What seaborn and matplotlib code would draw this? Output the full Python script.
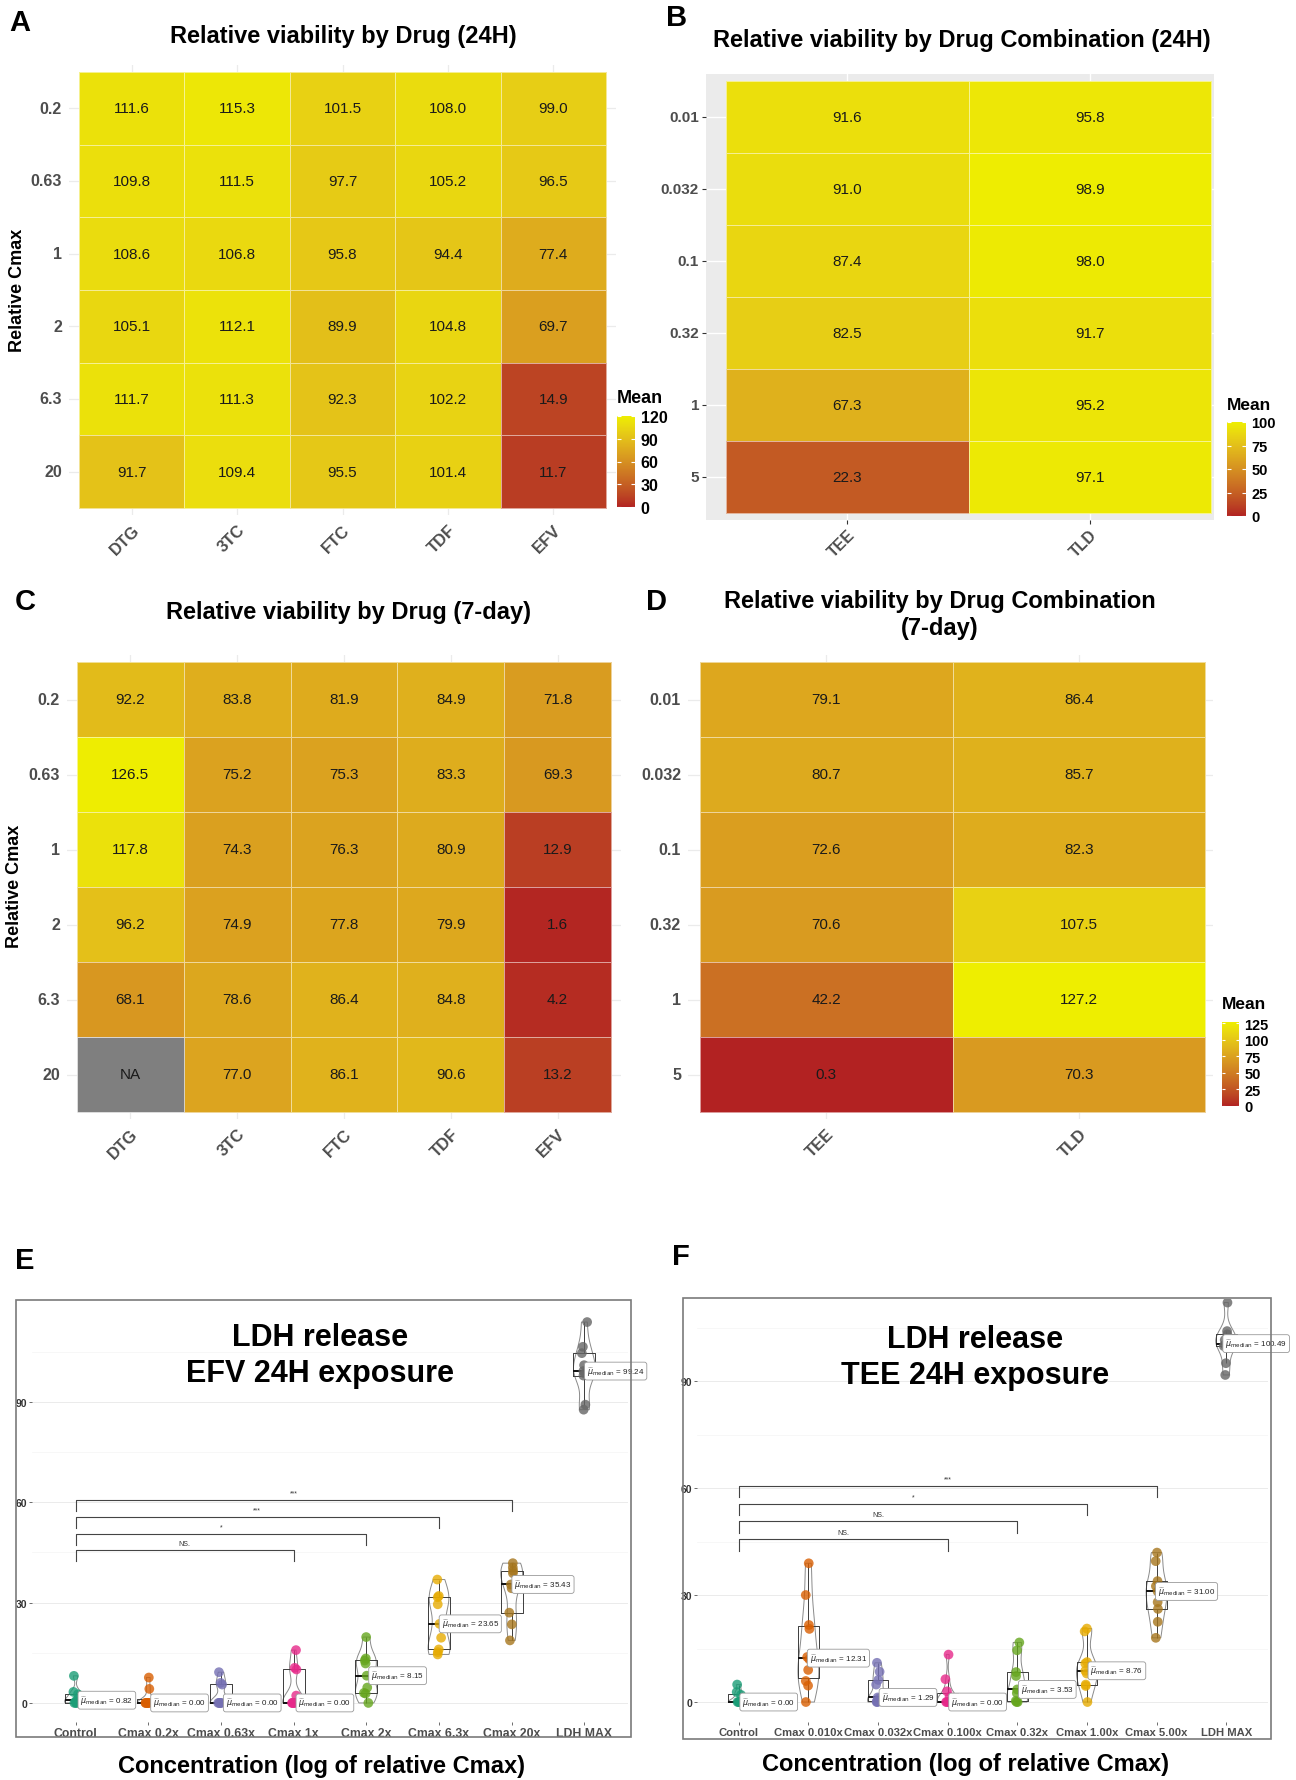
import numpy as np
import pandas as pd
import matplotlib
matplotlib.use("Agg")
import matplotlib.pyplot as plt
from matplotlib.colors import LinearSegmentedColormap, to_rgb
from matplotlib.patches import Rectangle
import seaborn as sns

# ---------------- data ----------------
drugs = ["DTG", "3TC", "FTC", "TDF", "EFV"]
cmax_single = ["0.2", "0.63", "1", "2", "6.3", "20"]
combos = ["TEE", "TLD"]
cmax_combo = ["0.01", "0.032", "0.1", "0.32", "1", "5"]

via24_DTG = [111.6, 109.8, 108.6, 105.1, 111.7, 91.7]
via24_3TC = [115.3, 111.5, 106.8, 112.1, 111.3, 109.4]
via24_FTC = [101.5, 97.7, 95.8, 89.9, 92.3, 95.5]
via24_TDF = [108.0, 105.2, 94.4, 104.8, 102.2, 101.4]
via24_EFV = [99.0, 96.5, 77.4, 69.7, 14.9, 11.7]

combo24_TEE = [91.6, 91.0, 87.4, 82.5, 67.3, 22.3]
combo24_TLD = [95.8, 98.9, 98.0, 91.7, 95.2, 97.1]

via7_DTG = [92.2, 126.5, 117.8, 96.2, 68.1, np.nan]
via7_3TC = [83.8, 75.2, 74.3, 74.9, 78.6, 77.0]
via7_FTC = [81.9, 75.3, 76.3, 77.8, 86.4, 86.1]
via7_TDF = [84.9, 83.3, 80.9, 79.9, 84.8, 90.6]
via7_EFV = [71.8, 69.3, 12.9, 1.6, 4.2, 13.2]

combo7_TEE = [79.1, 80.7, 72.6, 70.6, 42.2, 0.3]
combo7_TLD = [86.4, 85.7, 82.3, 107.5, 127.2, 70.3]

# LDH release, EFV 24H
efv_groups = ["Control", "Cmax 0.2x", "Cmax 0.63x", "Cmax 1x", "Cmax 2x",
              "Cmax 6.3x", "Cmax 20x", "LDH MAX"]
efv_control = [0.0, 0.0, 0.0, 0.5, 1.14, 2.6, 3.3, 8.1]
efv_c02 = [0.0, 0.0, 0.0, 0.0, 0.0, 0.0, 4.2, 7.6]
efv_c063 = [0.0, 0.0, 0.0, 0.0, 0.0, 5.5, 6.0, 9.2]
efv_c1 = [0.0, 0.0, 0.0, 0.0, 0.0, 2.2, 10.0, 10.5, 15.8]
efv_c2 = [0.0, 2.8, 3.0, 4.6, 8.15, 11.8, 12.7, 13.3, 19.7]
efv_c63 = [14.5, 15.2, 16.0, 19.5, 23.65, 29.5, 31.6, 32.0, 36.9]
efv_c20 = [18.7, 23.5, 27.0, 34.3, 35.43, 38.8, 39.5, 40.5, 41.8]
efv_max = [87.7, 89.2, 97.9, 98.5, 99.24, 101.0, 104.6, 106.5, 113.9]
efv_cmp_to = ["Cmax 1x", "Cmax 2x", "Cmax 6.3x", "Cmax 20x"]
efv_cmp_lab = ["NS.", "*", "***", "***"]

# LDH release, TEE 24H
tee_groups = ["Control", "Cmax 0.010x", "Cmax 0.032x", "Cmax 0.100x", "Cmax 0.32x",
              "Cmax 1.00x", "Cmax 5.00x", "LDH MAX"]
tee_control = [0.0, 0.0, 0.0, 0.0, 0.0, 2.0, 2.8, 4.9]
tee_c0010 = [0.0, 4.6, 5.9, 9.0, 12.0, 12.62, 20.5, 21.6, 30.0, 38.9]
tee_c0032 = [0.0, 0.0, 0.2, 1.0, 1.29, 4.9, 6.2, 8.5, 11.0]
tee_c0100 = [0.0, 0.0, 0.0, 0.0, 0.0, 0.0, 1.5, 3.0, 6.4, 13.3]
tee_c032 = [0.0, 0.0, 0.3, 2.5, 3.53, 7.3, 8.4, 14.5, 16.7]
tee_c100 = [0.0, 4.5, 4.9, 8.0, 8.76, 10.8, 11.2, 19.8, 20.6]
tee_c500 = [18.0, 22.5, 26.1, 28.0, 31.0, 32.5, 33.9, 39.5, 41.9]
tee_max = [91.7, 95.0, 99.8, 100.2, 100.49, 101.5, 103.1, 104.0, 112.0]
tee_cmp_to = ["Cmax 0.100x", "Cmax 0.32x", "Cmax 1.00x", "Cmax 5.00x"]
tee_cmp_lab = ["NS.", "NS.", "*", "***"]

# ---------------- style helpers ----------------
plt.rcParams["font.family"] = ["Liberation Sans", "DejaVu Sans"]
W, H = 1296, 1781
fig = plt.figure(figsize=(W / 100, H / 100), dpi=100)
fig.patch.set_facecolor("white")


def rect(x0, y0, x1, y1):
    return [x0 / W, 1 - y1 / H, (x1 - x0) / W, (y1 - y0) / H]


def fx(x):
    return x / W


def fy(y):
    return 1 - y / H


# Lab-space gradient firebrick -> yellow2 (like ggplot scale_fill_gradient)
def _lin(c):
    c = np.asarray(c)
    return np.where(c <= 0.04045, c / 12.92, ((c + 0.055) / 1.055) ** 2.4)


def _unlin(c):
    c = np.clip(c, 0, 1)
    return np.where(c <= 0.0031308, 12.92 * c, 1.055 * c ** (1 / 2.4) - 0.055)


_M = np.array([[0.4124, 0.3576, 0.1805], [0.2126, 0.7152, 0.0722], [0.0193, 0.1192, 0.9505]])
_WP = np.array([0.95047, 1.0, 1.08883])


def _f(t):
    d = 6 / 29
    return np.where(t > d ** 3, np.cbrt(t), t / (3 * d * d) + 4 / 29)


def _finv(t):
    d = 6 / 29
    return np.where(t > d, t ** 3, 3 * d * d * (t - 4 / 29))


def to_lab(rgb):
    xyz = _M @ _lin(rgb) / _WP
    fx_, fy_, fz_ = _f(xyz)
    return np.array([116 * fy_ - 16, 500 * (fx_ - fy_), 200 * (fy_ - fz_)])


def from_lab(lab):
    L, a, b = lab
    fy_ = (L + 16) / 116
    xyz = np.array([_finv(fy_ + a / 500), _finv(fy_), _finv(fy_ - b / 200)]) * _WP
    return _unlin(np.linalg.solve(_M, xyz))


lab_lo, lab_hi = to_lab(to_rgb("#B22222")), to_lab(to_rgb("#EEEE00"))
cols_grad = [from_lab(lab_lo + (lab_hi - lab_lo) * t) for t in np.linspace(0, 1, 64)]
cmap = LinearSegmentedColormap.from_list("redyel", cols_grad)

TICK_GRAY = "#4D4D4D"


def heat(col_names, row_names, columns, tiles, pads, vmin, vmax, cax_px=None,
         cticks=None, gray=False, cfs=11, tfs=11.5, xfs=12):
    x0, y0, x1, y1 = tiles
    pl, pr, pt, pb = pads
    ax = fig.add_axes(rect(x0 - pl, y0 - pt, x1 + pr, y1 + pb))
    df = pd.DataFrame({c: v for c, v in zip(col_names, columns)}, index=row_names)
    cax = fig.add_axes(rect(*cax_px)) if cax_px else None
    sns.heatmap(df, ax=ax, cmap=cmap, vmin=vmin, vmax=vmax, annot=True, fmt=".1f",
                annot_kws={"fontsize": 11, "color": "#1a1a1a"},
                linewidths=0.6, linecolor=(1, 1, 1, 0.55),
                cbar=cax is not None, cbar_ax=cax)
    nc, nr = len(col_names), len(row_names)
    cw, rh = (x1 - x0) / nc, (y1 - y0) / nr
    vals = df.to_numpy()
    for i, j in np.argwhere(np.isnan(vals)):
        ax.add_patch(Rectangle((j, i), 1, 1, fc="#7F7F7F", ec=(1, 1, 1, 0.55), lw=0.6, zorder=3))
        ax.text(j + 0.5, i + 0.5, "NA", ha="center", va="center", fontsize=11,
                color="#1a1a1a", zorder=4)
    ax.set_xlim(-pl / cw, nc + pr / cw)
    ax.set_ylim(nr + pb / rh, -pt / rh)
    ax.set_axisbelow(True)
    if gray:
        ax.set_facecolor("#EBEBEB")
        ax.grid(True, color="white", lw=1.0)
        ax.tick_params(length=3, width=0.8, color="#333333", pad=2)
    else:
        ax.set_facecolor("white")
        ax.grid(True, color="#EBEBEB", lw=0.9)
        ax.tick_params(length=0, pad=5)
    ax.set_xticklabels(col_names, rotation=45, ha="right", va="top",
                       rotation_mode="anchor", fontsize=xfs, fontweight="bold",
                       color=TICK_GRAY)
    ax.set_yticklabels(row_names, rotation=0, fontsize=tfs, fontweight="bold",
                       color=TICK_GRAY)
    ax.set_xlabel("")
    ax.set_ylabel("")
    for s in ax.spines.values():
        s.set_visible(False)
    if cax is not None:
        cb = ax.collections[0].colorbar
        cb.outline.set_visible(False)
        cb.set_ticks(cticks)
        cb.set_ticklabels([str(t) for t in cticks])
        cax.tick_params(length=0, labelsize=cfs, pad=4)
        for lab in cax.get_yticklabels():
            lab.set_fontweight("bold")
        for t in cticks:
            cax.hlines(t, 0, 0.2, color="white", lw=0.8)
            cax.hlines(t, 0.8, 1, color="white", lw=0.8)
        fig.text(fx(cax_px[0]), fy(cax_px[1] - 18), "Mean", ha="left", va="center",
                 fontsize=13 if cfs > 10.5 else 12.5, fontweight="bold")
    return ax


# ---------------- panel A ----------------
heat(drugs, cmax_single, [via24_DTG, via24_3TC, via24_FTC, via24_TDF, via24_EFV],
     (79, 73, 606, 509), (10, 10, 7, 7), 0, 120,
     cax_px=(617, 417, 635, 508), cticks=[0, 30, 60, 90, 120], cfs=11.5)
fig.text(fx(18), fy(290), "Relative Cmax", rotation=90, ha="center", va="center",
         fontsize=13, fontweight="bold")
fig.text(fx(343), fy(37), "Relative viability by Drug (24H)", ha="center", va="center",
         fontsize=17, fontweight="bold")

# ---------------- panel B ----------------
heat(combos, cmax_combo, [combo24_TEE, combo24_TLD],
     (726, 82, 1211, 514), (20, 3, 7, 7), 0, 100,
     cax_px=(1227, 423, 1246, 517), cticks=[0, 25, 50, 75, 100], cfs=10.5,
     gray=True, tfs=11, xfs=11.5)
fig.text(fx(962), fy(40), "Relative viability by Drug Combination (24H)", ha="center",
         va="center", fontsize=17, fontweight="bold")

# ---------------- panel C ----------------
heat(drugs, cmax_single, [via7_DTG, via7_3TC, via7_FTC, via7_TDF, via7_EFV],
     (77, 663, 611, 1113), (10, 10, 7, 7), 0, 127.2)
fig.text(fx(15), fy(886), "Relative Cmax", rotation=90, ha="center", va="center",
         fontsize=13, fontweight="bold")
fig.text(fx(349), fy(613), "Relative viability by Drug (7-day)", ha="center", va="center",
         fontsize=17, fontweight="bold")

# ---------------- panel D ----------------
heat(combos, cmax_combo, [combo7_TEE, combo7_TLD],
     (700, 663, 1205, 1113), (12, 8, 7, 7), 0, 127.2,
     cax_px=(1222, 1023, 1239, 1107), cticks=[0, 25, 50, 75, 100, 125], cfs=10.5)
fig.text(fx(940), fy(615), "Relative viability by Drug Combination\n(7-day)", ha="center",
         va="center", fontsize=17, fontweight="bold", linespacing=1.25)

# ---------------- panels E / F ----------------
dark2 = sns.color_palette("Dark2", 8)


def ldh(groups, series, cmp_to, cmp_lab, panel_px, ylim, frame_px, title, title_xy,
        xlab_xy, xfs):
    ax = fig.add_axes(rect(*panel_px))
    df = pd.DataFrame({
        "group": np.repeat(groups, [len(s) for s in series]),
        "value": np.concatenate([np.asarray(s, float) for s in series]),
    })
    ax.set_yticks([15, 45, 75, 105], minor=True)
    ax.grid(True, which="major", color="#EBEBEB", lw=0.7)
    ax.grid(True, which="minor", axis="y", color="#F4F4F4", lw=0.5)
    ax.set_axisbelow(True)
    sns.violinplot(data=df, x="group", y="value", order=groups, inner=None, fill=False,
                   color="#8a8a8a", linewidth=0.7, width=0.3, density_norm="width",
                   bw_adjust=0.7, cut=0, ax=ax)
    sns.boxplot(data=df, x="group", y="value", order=groups, fill=False, color="#3c3c3c",
                width=0.3, showfliers=False, showcaps=False, linewidth=0.7,
                medianprops={"linewidth": 1.4, "color": "#111111"}, ax=ax)
    np.random.seed(3)
    sns.stripplot(data=df, x="group", y="value", order=groups, hue="group",
                  hue_order=groups, palette=dark2, size=7, alpha=0.8, jitter=0.04,
                  legend=False, ax=ax, zorder=3)
    for i, s in enumerate(series):
        m = np.median(s)
        ax.text(i + 0.43, m, r"$\widehat{\mu}_{\mathrm{median}}$ = %.2f" % m,
                ha="center", va="center", fontsize=5.8, color="#222222", zorder=5,
                bbox=dict(boxstyle="round,pad=0.3", fc="white", ec="#9a9a9a", lw=0.6))
    tip = 3.3
    for k, (tgt, lab) in enumerate(zip(cmp_to, cmp_lab)):
        j = groups.index(tgt)
        yb = 45.6 + 5.02 * k
        ax.plot([0, 0, j, j], [yb - tip, yb, yb, yb - tip], color="#444444", lw=0.8,
                zorder=4)
        ax.text(j / 2, yb + 1.0, lab, ha="center", va="bottom", fontsize=5,
                color="#333333")
    ax.set_xlim(-0.6, 7.6)
    ax.set_ylim(*ylim)
    ax.set_yticks([0, 30, 60, 90])
    ax.set_xlabel("")
    ax.set_ylabel("")
    for s in ax.spines.values():
        s.set_visible(False)
    ax.tick_params(axis="both", which="major", length=2, width=0.5, color="#333333",
                   pad=1.5)
    ax.tick_params(axis="y", which="minor", length=0)
    for lab in ax.get_xticklabels():
        lab.set_fontsize(xfs)
        lab.set_fontweight("bold")
        lab.set_color(TICK_GRAY)
    for lab in ax.get_yticklabels():
        lab.set_fontsize(7.5)
        lab.set_fontweight("bold")
        lab.set_color("#333333")
    fx0, fy0, fx1, fy1 = frame_px
    fig.add_artist(Rectangle((fx(fx0), fy(fy1)), (fx1 - fx0) / W, (fy1 - fy0) / H,
                             transform=fig.transFigure, fill=False, ec="#7a7a7a", lw=1.2))
    fig.text(fx(title_xy[0]), fy(title_xy[1]), title, ha="center", va="center",
             fontsize=22, fontweight="bold", linespacing=1.3)
    fig.text(fx(xlab_xy[0]), fy(xlab_xy[1]), "Concentration (log of relative Cmax)",
             ha="center", va="center", fontsize=17, fontweight="bold")
    return ax


ldh(efv_groups, [efv_control, efv_c02, efv_c063, efv_c1, efv_c2, efv_c63, efv_c20, efv_max],
    efv_cmp_to, efv_cmp_lab, (32, 1304, 628, 1723), (-5.7, 119.6), (16, 1301, 631, 1738),
    "LDH release\nEFV 24H exposure", (320, 1356), (322, 1767), 8.8)
ldh(tee_groups, [tee_control, tee_c0010, tee_c0032, tee_c0100, tee_c032, tee_c100, tee_c500,
                 tee_max],
    tee_cmp_to, tee_cmp_lab, (697, 1300, 1268, 1723), (-5.6, 113.0), (683, 1299, 1271, 1740),
    "LDH release\nTEE 24H exposure", (975, 1358), (965, 1765), 8.1)

# ---------------- panel letters ----------------
for letter, (x, y) in zip("ABCDEF", [(20, 23), (677, 18), (25, 602), (657, 602),
                                      (25, 1261), (681, 1257)]):
    fig.text(fx(x), fy(y), letter, ha="center", va="center", fontsize=21,
             fontweight="bold")

fig.savefig("out.png", dpi=100, facecolor="white")
